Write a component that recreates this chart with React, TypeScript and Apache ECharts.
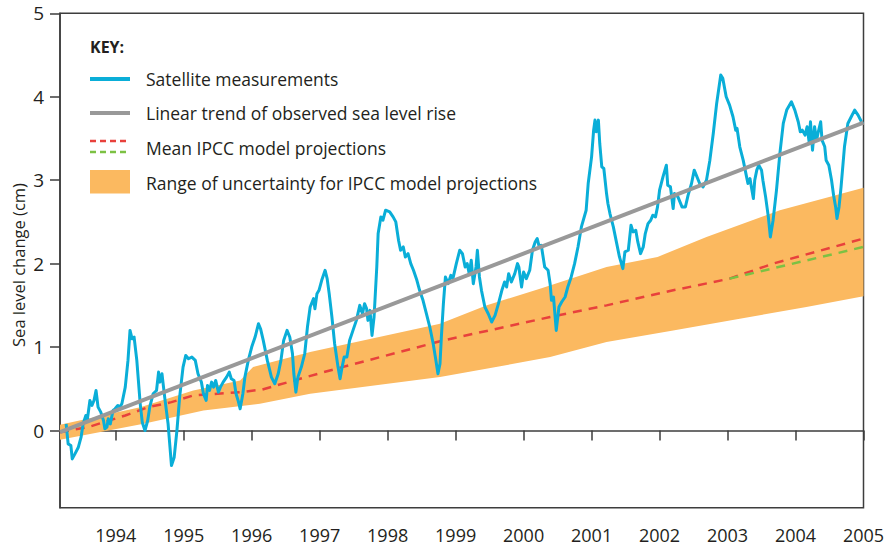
import React, { useEffect, useRef } from "react";
import * as echarts from "echarts";

// ---- axis ticks ----
const yearTicks = [1994, 1995, 1996, 1997, 1998, 1999, 2000, 2001, 2002, 2003, 2004, 2005];
const valueTicks = [0, 1, 2, 3, 4, 5];

// ---- satellite measurements [year, cm] ----
const sat1993: number[][] = [
  [1993.27, 0.08], [1993.30, -0.16], [1993.34, -0.18], [1993.36, -0.34], [1993.40, -0.28], [1993.45, -0.20],
  [1993.49, -0.08], [1993.52, 0.08], [1993.56, 0.18], [1993.58, 0.12], [1993.62, 0.36], [1993.65, 0.30],
  [1993.68, 0.36], [1993.71, 0.48], [1993.74, 0.28], [1993.78, 0.22], [1993.82, 0.12], [1993.84, 0.02],
  [1993.87, 0.04], [1993.89, 0.14], [1993.92, 0.08], [1993.96, 0.24], [1993.99, 0.26],
];
const sat1994: number[][] = [
  [1994.03, 0.30], [1994.06, 0.28], [1994.09, 0.32], [1994.14, 0.52], [1994.18, 0.84], [1994.21, 1.20],
  [1994.24, 1.10], [1994.27, 1.12], [1994.31, 0.84], [1994.36, 0.32], [1994.39, 0.10], [1994.43, 0.00],
  [1994.47, 0.12], [1994.50, 0.28], [1994.55, 0.44], [1994.60, 0.48], [1994.63, 0.70], [1994.65, 0.58],
  [1994.68, 0.68], [1994.72, 0.40], [1994.77, 0.08], [1994.82, -0.42], [1994.86, -0.32], [1994.90, 0.00],
  [1994.94, 0.40], [1994.99, 0.76],
];
const sat1995: number[][] = [
  [1995.03, 0.90], [1995.07, 0.86], [1995.12, 0.88], [1995.17, 0.84], [1995.21, 0.68], [1995.26, 0.58],
  [1995.29, 0.44], [1995.33, 0.36], [1995.35, 0.54], [1995.38, 0.48], [1995.41, 0.58], [1995.44, 0.52],
  [1995.47, 0.60], [1995.51, 0.46], [1995.54, 0.52], [1995.58, 0.58], [1995.63, 0.64], [1995.67, 0.70],
  [1995.70, 0.62], [1995.74, 0.60], [1995.77, 0.44], [1995.80, 0.36], [1995.83, 0.26], [1995.87, 0.44],
  [1995.90, 0.64], [1995.95, 0.84],
];
const sat1996: number[][] = [
  [1996.00, 1.00], [1996.05, 1.12], [1996.10, 1.28], [1996.13, 1.22], [1996.17, 1.08], [1996.23, 0.84],
  [1996.29, 0.64], [1996.34, 0.56], [1996.39, 0.68], [1996.43, 0.84], [1996.47, 1.08], [1996.52, 1.20],
  [1996.56, 1.12], [1996.60, 0.92], [1996.62, 0.68], [1996.65, 0.46], [1996.68, 0.64], [1996.73, 0.76],
  [1996.78, 0.92], [1996.82, 1.24], [1996.86, 1.48], [1996.91, 1.58], [1996.93, 1.46], [1996.96, 1.64],
  [1996.99, 1.68],
];
const sat1997: number[][] = [
  [1997.03, 1.80], [1997.08, 1.92], [1997.11, 1.82], [1997.14, 1.64], [1997.18, 1.36], [1997.22, 1.04],
  [1997.27, 0.76], [1997.30, 0.62], [1997.33, 0.76], [1997.36, 0.88], [1997.40, 0.88], [1997.44, 1.08],
  [1997.49, 1.20], [1997.54, 1.32], [1997.59, 1.50], [1997.63, 1.40], [1997.66, 1.52], [1997.69, 1.46],
  [1997.71, 1.32], [1997.74, 1.44], [1997.77, 1.14], [1997.80, 1.36], [1997.84, 1.96], [1997.86, 2.36],
  [1997.90, 2.56], [1997.93, 2.52], [1997.97, 2.64],
];
const sat1998: number[][] = [
  [1998.03, 2.62], [1998.08, 2.56], [1998.12, 2.50], [1998.16, 2.28], [1998.19, 2.16], [1998.23, 2.20],
  [1998.26, 2.08], [1998.30, 2.12], [1998.34, 2.00], [1998.38, 1.92], [1998.43, 1.80], [1998.47, 1.68],
  [1998.52, 1.56], [1998.57, 1.40], [1998.62, 1.24], [1998.67, 1.04], [1998.71, 0.84], [1998.74, 0.68],
  [1998.77, 0.80], [1998.79, 1.12], [1998.82, 1.52], [1998.85, 1.84], [1998.89, 1.76], [1998.93, 1.86],
  [1998.96, 1.82],
];
const sat1999: number[][] = [
  [1999.01, 2.00], [1999.06, 2.16], [1999.10, 2.12], [1999.14, 1.96], [1999.17, 2.00], [1999.20, 1.88],
  [1999.23, 2.04], [1999.26, 1.76], [1999.30, 1.96], [1999.32, 2.16], [1999.35, 1.84], [1999.38, 1.68],
  [1999.43, 1.48], [1999.48, 1.40], [1999.53, 1.30], [1999.58, 1.38], [1999.63, 1.52], [1999.68, 1.68],
  [1999.72, 1.78], [1999.75, 1.72], [1999.78, 1.88], [1999.82, 1.78], [1999.87, 1.88], [1999.91, 2.00],
  [1999.93, 1.96], [1999.97, 1.72],
];
const sat2000: number[][] = [
  [2000.00, 1.90], [2000.04, 1.82], [2000.09, 1.92], [2000.13, 2.16], [2000.17, 2.26], [2000.20, 2.30],
  [2000.23, 2.20], [2000.26, 2.22], [2000.31, 1.96], [2000.36, 1.92], [2000.39, 1.76], [2000.41, 1.56],
  [2000.44, 1.60], [2000.48, 1.20], [2000.52, 1.48], [2000.56, 1.54], [2000.61, 1.60], [2000.65, 1.72],
  [2000.70, 1.84], [2000.75, 2.00], [2000.80, 2.20], [2000.85, 2.44], [2000.92, 2.64], [2000.95, 2.96],
];
const sat2001: number[][] = [
  [2001.00, 3.28], [2001.03, 3.60], [2001.05, 3.72], [2001.07, 3.58], [2001.10, 3.72], [2001.12, 3.44],
  [2001.15, 3.16], [2001.18, 3.14], [2001.22, 2.84], [2001.24, 2.72], [2001.27, 2.60], [2001.32, 2.44],
  [2001.37, 2.24], [2001.41, 2.08], [2001.46, 1.94], [2001.49, 2.14], [2001.54, 2.16], [2001.58, 2.46],
  [2001.61, 2.38], [2001.65, 2.40], [2001.68, 2.26], [2001.72, 2.12], [2001.76, 2.20], [2001.79, 2.36],
  [2001.83, 2.48], [2001.87, 2.52], [2001.90, 2.58], [2001.94, 2.56], [2001.97, 2.68],
];
const sat2002: number[][] = [
  [2002.00, 2.88], [2002.05, 3.04], [2002.10, 3.18], [2002.12, 2.94], [2002.16, 2.92], [2002.20, 2.66],
  [2002.22, 2.84], [2002.27, 2.80], [2002.33, 2.68], [2002.38, 2.68], [2002.42, 2.82], [2002.47, 2.96],
  [2002.51, 3.12], [2002.54, 3.06], [2002.59, 2.96], [2002.64, 2.92], [2002.69, 3.00], [2002.74, 3.24],
  [2002.79, 3.56], [2002.84, 3.92], [2002.90, 4.26], [2002.93, 4.22], [2002.98, 4.00],
];
const sat2003: number[][] = [
  [2003.03, 3.90], [2003.08, 3.76], [2003.12, 3.60], [2003.14, 3.62], [2003.18, 3.40], [2003.23, 3.24],
  [2003.28, 3.04], [2003.30, 2.96], [2003.33, 3.02], [2003.35, 2.92], [2003.38, 2.78], [2003.40, 3.00],
  [2003.43, 3.12], [2003.46, 3.18], [2003.50, 3.12], [2003.52, 3.00], [2003.56, 2.80], [2003.60, 2.56],
  [2003.63, 2.32], [2003.67, 2.52], [2003.72, 2.88], [2003.77, 3.32], [2003.82, 3.68], [2003.87, 3.84],
  [2003.94, 3.94], [2003.99, 3.84],
];
const sat2004: number[][] = [
  [2004.04, 3.70], [2004.07, 3.58], [2004.10, 3.60], [2004.14, 3.54], [2004.17, 3.64], [2004.20, 3.46],
  [2004.22, 3.70], [2004.25, 3.36], [2004.28, 3.64], [2004.31, 3.48], [2004.33, 3.56], [2004.37, 3.70],
  [2004.39, 3.48], [2004.43, 3.40], [2004.45, 3.24], [2004.49, 3.18], [2004.53, 3.00], [2004.56, 2.82],
  [2004.59, 2.68], [2004.61, 2.54], [2004.64, 2.68], [2004.67, 2.92], [2004.72, 3.40], [2004.77, 3.68],
  [2004.82, 3.76], [2004.87, 3.84], [2004.92, 3.78], [2004.97, 3.70], [2004.99, 3.68],
];
const satellite = [
  ...sat1993, ...sat1994, ...sat1995, ...sat1996, ...sat1997, ...sat1998,
  ...sat1999, ...sat2000, ...sat2001, ...sat2002, ...sat2003, ...sat2004,
];

// ---- linear trend of observed sea level rise ----
const trendLine: number[][] = [[1993.18, -0.02], [2005, 3.69]];

// ---- mean IPCC model projections ----
const meanProjectionRed: number[][] = [
  [1993.18, -0.02], [1993.59, 0.04], [1994.14, 0.18], [1994.48, 0.28], [1994.82, 0.34], [1995.14, 0.42],
  [1995.83, 0.46], [1996.15, 0.49], [1996.71, 0.62], [1997.15, 0.72], [1998.82, 1.08], [2000.39, 1.36],
  [2001.22, 1.50], [2002.20, 1.68], [2003.03, 1.82], [2003.67, 2.00], [2005, 2.30],
];
const meanProjectionGreen: number[][] = [[2003.03, 1.82], [2005, 2.20]];

// ---- range of uncertainty ----
const bandUpper: number[][] = [
  [1993.18, 0.07], [1994.36, 0.28], [1995.14, 0.48], [1995.83, 0.60], [1996.02, 0.76], [1996.86, 0.94],
  [1998.77, 1.28], [1999.46, 1.50], [2000.24, 1.70], [2001.22, 1.96], [2001.97, 2.08], [2002.69, 2.32],
  [2003.77, 2.64], [2005, 2.91],
];
const bandLower: number[][] = [
  [1993.18, -0.11], [1994.41, 0.08], [1995.29, 0.24], [1996.12, 0.32], [1996.86, 0.44], [1998.77, 0.64],
  [2000.39, 0.88], [2001.22, 1.06], [2002.20, 1.20], [2003.18, 1.34], [2004.16, 1.48], [2005, 1.61],
];

const legendLabels = [
  "Satellite measurements",
  "Linear trend of observed sea level rise",
  "Mean IPCC model projections",
  "Range of uncertainty for IPCC model projections",
];

const FONT = "'Open Sans', 'Noto Sans', sans-serif";
const TEXT = "#231f20";
const AXIS = "#3d3d3d";
const BLUE = "#0aaed8";
const GRAY = "#999999";
const RED = "#e8413c";
const GREEN = "#7cc143";
const ORANGE = "#fbb960";

export default function App() {
  const ref = useRef<HTMLDivElement>(null);
  useEffect(() => {
    document.body.style.margin = "0";
    if (!ref.current) return;
    const chart = echarts.init(ref.current, null, { renderer: "svg" });
    const lx1 = 90, lx2 = 130, tx = 146;
    const rows = [79, 113, 148, 183];
    chart.setOption({
      animation: false,
      backgroundColor: "#ffffff",
      grid: {
        left: 60, right: 21.5, top: 13.3, bottom: 40.3,
        containLabel: false, outerBoundsMode: "none",
        show: true, borderColor: AXIS, borderWidth: 1.5,
      },
      xAxis: {
        type: "value", min: 1993.18, max: 2005,
        axisLine: { show: true, lineStyle: { color: AXIS, width: 1.5 } },
        axisTick: { show: true, customValues: yearTicks, length: 10, lineStyle: { color: AXIS, width: 1.5 } },
        axisLabel: {
          customValues: yearTicks, fontSize: 18, color: TEXT, fontFamily: FONT, margin: 18,
          formatter: (v: number) => String(Math.round(v)),
        },
        splitLine: { show: false },
      },
      yAxis: {
        type: "value", min: -0.925, max: 5,
        axisLine: { show: true, lineStyle: { color: AXIS, width: 1.5 } },
        axisTick: { show: true, customValues: valueTicks, length: 10, lineStyle: { color: AXIS, width: 1.5 } },
        axisLabel: {
          customValues: valueTicks, fontSize: 19, color: TEXT, fontFamily: FONT, margin: 16,
          formatter: (v: number) => String(Math.round(v)),
        },
        splitLine: { show: false },
      },
      graphic: [
        {
          type: "text", x: 18, y: 265, rotation: Math.PI / 2,
          style: { text: "Sea level change (cm)", font: `16.5px ${FONT}`, fill: TEXT, align: "center", verticalAlign: "middle" },
        },
        { type: "text", x: lx1, y: 47, style: { text: "KEY:", font: `bold 16px ${FONT}`, fill: TEXT, verticalAlign: "middle" } },
        { type: "line", shape: { x1: lx1, y1: rows[0], x2: lx2, y2: rows[0] }, style: { stroke: BLUE, lineWidth: 4 } },
        { type: "line", shape: { x1: lx1, y1: rows[1], x2: lx2, y2: rows[1] }, style: { stroke: GRAY, lineWidth: 4 } },
        { type: "line", shape: { x1: lx1, y1: 141, x2: lx2, y2: 141 }, style: { stroke: RED, lineWidth: 2.5, lineDash: [6, 4] } },
        { type: "line", shape: { x1: lx1, y1: 152, x2: lx2, y2: 152 }, style: { stroke: GREEN, lineWidth: 2.5, lineDash: [6, 4] } },
        { type: "rect", shape: { x: lx1, y: 170, width: 40, height: 23.5 }, style: { fill: ORANGE } },
        ...legendLabels.map((t, i) => ({
          type: "text", x: tx, y: rows[i],
          style: { text: t, font: `17.5px ${FONT}`, fill: TEXT, verticalAlign: "middle" },
        })),
      ],
      series: [
        {
          type: "custom",
          name: "Range of uncertainty",
          z: 1,
          silent: true,
          data: [[2000, 1]],
          renderItem: (_params: any, api: any) => {
            const pts = bandUpper.map((p) => api.coord(p)).concat(
              bandLower.slice().reverse().map((p) => api.coord(p))
            );
            return { type: "polygon", shape: { points: pts }, style: { fill: ORANGE } };
          },
        },
        {
          type: "line", name: "Mean IPCC (red)", z: 2, data: meanProjectionRed, showSymbol: false,
          lineStyle: { color: RED, width: 2.5, type: [9, 7] },
        },
        {
          type: "line", name: "Mean IPCC (green)", z: 2, data: meanProjectionGreen, showSymbol: false,
          lineStyle: { color: GREEN, width: 2.5, type: [9, 7] },
        },
        {
          type: "line", name: "Satellite measurements", z: 3, data: satellite, showSymbol: false,
          lineStyle: { color: BLUE, width: 3, join: "round" },
        },
        {
          type: "line", name: "Linear trend", z: 4, data: trendLine, showSymbol: false,
          lineStyle: { color: GRAY, width: 4 },
        },
      ],
    });
    return () => chart.dispose();
  }, []);
  return <div ref={ref} style={{ width: 885, height: 548 }} />;
}
